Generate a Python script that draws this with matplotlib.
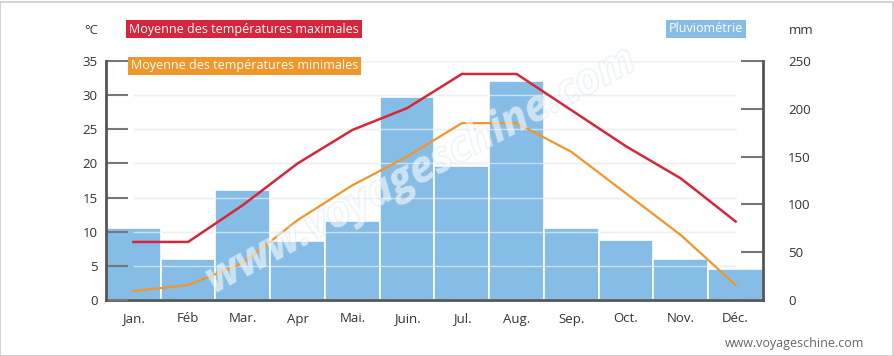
import numpy as np
from matplotlib import pyplot as plt
import matplotlib.patheffects as pe
from matplotlib.patches import Rectangle

plt.rcParams['font.family'] = ['Open Sans', 'DejaVu Sans']

# data
months = ['Jan.', 'Féb', 'Mar.', 'Apr', 'Mai.', 'Juin.', 'Jul.', 'Aug.', 'Sep.', 'Oct.', 'Nov.', 'Déc.']
tempMax = [8.5, 8.5, 13.9, 20.0, 24.9, 28.1, 33.1, 33.1, 27.8, 22.5, 17.8, 11.5]
tempMin = [1.3, 2.2, 5.4, 11.7, 16.8, 21.0, 25.9, 25.9, 21.7, 15.6, 9.5, 2.2]
rain = [75, 43, 115, 62, 83, 212, 140, 229, 75, 63, 43, 32]
tempTicks = [0, 5, 10, 15, 20, 25, 30, 35]
rainTicks = [0, 50, 100, 150, 200, 250]

cRed = '#d7263b'
cOrange = '#f0962a'
cBlue = '#86bde6'
cAxis = '#555555'
cText = '#333333'

W, H = 895, 356
fig = plt.figure( figsize=( W / 100, H / 100 ), dpi=100 )
fig.patch.set_facecolor( 'white' )
fig.patches.append( Rectangle( ( 0.5 / W, 0.5 / H ), 1 - 2 / W, 1 - 2 / H, transform=fig.transFigure,
                               fill=False, ec='#cccccc', lw=1.2 ) )

x0, x1, y0, y1 = 106, 763, 300, 61
rect = [ x0 / W, ( H - y0 ) / H, ( x1 - x0 ) / W, ( y0 - y1 ) / H ]
x = np.arange( len( months ) )

# temperature axis (left)
axT = fig.add_axes( rect )
# rain axis (right), drawn behind
ax = axT.twinx()
ax.set_zorder( 1 )
axT.set_zorder( 2 )
axT.patch.set_visible( False )

ax.set_xlim( -0.5, 11.5 )
ax.set_ylim( 0, 250 )
ax.bar( x, rain, width=1.0, color=cBlue, ec='white', lw=1.2, zorder=2 )
ax.set_yticks( rainTicks )
ax.set_yticklabels( [ str( v ) for v in rainTicks ], fontsize=9.5, color=cText )
ax.tick_params( axis='y', direction='in', length=16, width=1.5, color='#777777', pad=18 )
for s in [ 'top', 'left' ]:
    ax.spines[s].set_visible( False )
ax.spines['right'].set_color( cAxis )
ax.spines['right'].set_linewidth( 2 )
ax.spines['bottom'].set_color( cAxis )
ax.spines['bottom'].set_linewidth( 2 )

axT.set_xlim( -0.5, 11.5 )
axT.set_ylim( 0, 35 )
axT.set_yticks( tempTicks )
axT.set_yticklabels( [ str( v ) for v in tempTicks ], fontsize=9.5, color=cText )
axT.tick_params( axis='y', direction='in', length=16, width=1.5, color='#777777', pad=6 )
axT.set_xticks( x )
axT.set_xticklabels( months, fontsize=9.5, color=cText )
axT.tick_params( axis='x', length=0, pad=9 )
for s in [ 'top', 'right', 'bottom' ]:
    axT.spines[s].set_visible( False )
axT.spines['left'].set_color( cAxis )
axT.spines['left'].set_linewidth( 2 )

# gridlines: grey behind bars, whitish over them
gridY = np.array( tempTicks[1:] ) / 35 * 250
ax.hlines( gridY, 0, 11, colors='#dcdcdc', lw=1, zorder=1 )
axT.hlines( tempTicks[1:], 0, 11, colors='white', lw=1, alpha=0.55, zorder=1 )

axT.plot( x, tempMax, color=cRed, lw=1.8, zorder=4, solid_joinstyle='round' )
axT.plot( x, tempMin, color=cOrange, lw=1.6, zorder=3, solid_joinstyle='round' )

# watermark
fig.text( 0.47, 0.52, 'www.voyageschine.com', rotation=28, fontsize=31, fontweight='bold', style='italic',
          color='white', alpha=0.35, ha='center', va='center', zorder=5,
          path_effects=[ pe.withStroke( linewidth=1.2, foreground='#c3dcef' ) ] )

# legend boxes and unit labels
def box( xp, yp, text, color ):
    fig.text( xp / W, 1 - yp / H, text, fontsize=9, color='white', ha='left', va='center',
              bbox=dict( boxstyle='square,pad=0.22', fc=color, ec='none' ) )

box( 129, 29, 'Moyenne des températures maximales', cRed )
box( 131, 66, 'Moyenne des températures minimales', cOrange )
box( 669, 29, 'Pluviométrie', cBlue )
fig.text( 98 / W, 1 - 30 / H, '°C', fontsize=9.5, color=cText, ha='right', va='center' )
fig.text( 789 / W, 1 - 30 / H, 'mm', fontsize=9.5, color=cText, ha='left', va='center' )
fig.text( 864 / W, 1 - 343 / H, 'www.voyageschine.com', fontsize=9, color='#666666', ha='right', va='center' )

fig.savefig( 'out.png', dpi=100 )
